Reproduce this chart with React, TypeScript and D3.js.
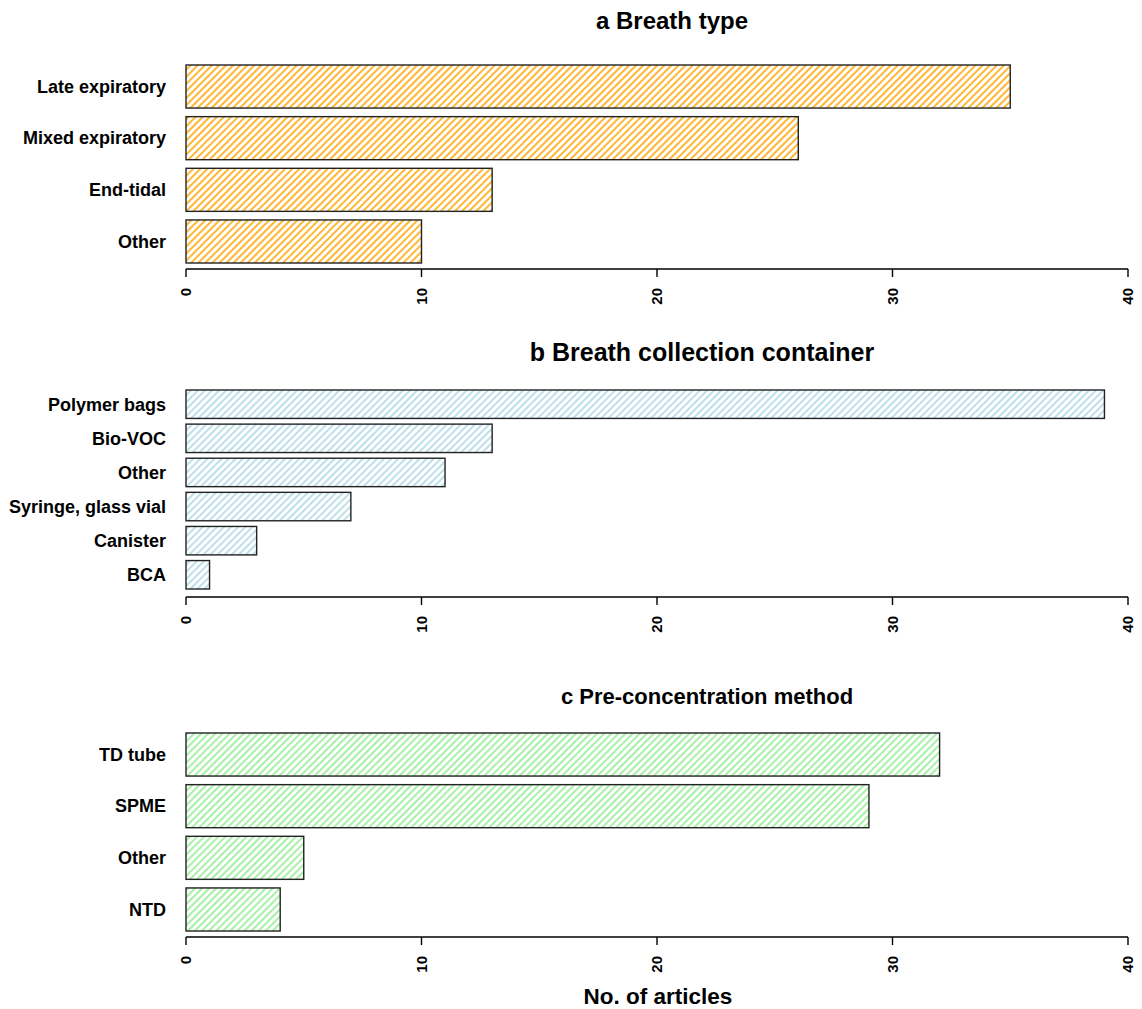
import React from "react";
import * as d3 from "d3";

const breathTypeCats = ["Late expiratory", "Mixed expiratory", "End-tidal", "Other"];
const breathTypeVals = [35, 26, 13, 10];

const containerCats = ["Polymer bags", "Bio-VOC", "Other", "Syringe, glass vial", "Canister", "BCA"];
const containerVals = [39, 13, 11, 7, 3, 1];

const preconCats = ["TD tube", "SPME", "Other", "NTD"];
const preconVals = [32, 29, 5, 4];

const xTicks = [0, 10, 20, 30, 40];
const titles = ["a Breath type", "b Breath collection container", "c Pre-concentration method"];
const xLabel = "No. of articles";

const W = 1142;
const H = 1009;
const X0 = 186;
const X1 = 1128;
const FONT = "'Liberation Sans', Arial, Helvetica, sans-serif";

const panels = [
  { cats: breathTypeCats, vals: breathTypeVals, color: "#FFA500", id: "hatchA", top: 65, bottom: 263, axisY: 269, titleY: 29, titleX: 672, titleSize: 24 },
  { cats: containerCats, vals: containerVals, color: "#ADD8E6", id: "hatchB", top: 390, bottom: 589, axisY: 597, titleY: 361, titleX: 702, titleSize: 25 },
  { cats: preconCats, vals: preconVals, color: "#90EE90", id: "hatchC", top: 733, bottom: 931, axisY: 937, titleY: 704, titleX: 707, titleSize: 22 },
];

export default function App() {
  const x = d3.scaleLinear().domain([0, 40]).range([X0, X1]);
  return (
    <svg width={W} height={H} style={{ position: "absolute", left: 0, top: 0, background: "#fff" }} fontFamily={FONT}>
      <defs>
        {panels.map((p) => (
          <pattern key={p.id} id={p.id} patternUnits="userSpaceOnUse" width={5} height={5} patternTransform="rotate(45)">
            <rect width={5} height={5} fill="#fff" />
            <line x1={1} y1={-1} x2={1} y2={6} stroke={p.color} strokeWidth={1.6} />
          </pattern>
        ))}
      </defs>
      <rect width={W} height={H} fill="#fff" />
      {panels.map((p, pi) => {
        const y = d3.scaleBand<string>().domain(p.cats).range([p.top, p.bottom]).paddingInner(1 / 6).paddingOuter(0);
        return (
          <g key={pi}>
            <text x={p.titleX} y={p.titleY} textAnchor="middle" fontWeight="bold" fontSize={p.titleSize}>
              {titles[pi]}
            </text>
            {p.cats.map((c, i) => (
              <g key={c}>
                <rect
                  x={x(0)}
                  y={y(c)!}
                  width={x(p.vals[i]) - x(0)}
                  height={y.bandwidth()}
                  fill={`url(#${p.id})`}
                  stroke="#222"
                  strokeWidth={1.4}
                />
                <text
                  x={166}
                  y={y(c)! + y.bandwidth() / 2}
                  dy="0.35em"
                  textAnchor="end"
                  fontWeight="bold"
                  fontSize={18}
                >
                  {c}
                </text>
              </g>
            ))}
            <line x1={x(0)} x2={x(40)} y1={p.axisY} y2={p.axisY} stroke="#000" strokeWidth={1.4} />
            {xTicks.map((t) => (
              <g key={t}>
                <line x1={x(t)} x2={x(t)} y1={p.axisY} y2={p.axisY + 8} stroke="#000" strokeWidth={1.4} />
                <text
                  transform={`translate(${x(t)},${p.axisY + 19}) rotate(-90)`}
                  textAnchor="end"
                  dy="0.35em"
                  fontWeight="bold"
                  fontSize={15}
                >
                  {t}
                </text>
              </g>
            ))}
          </g>
        );
      })}
      <text x={658} y={1004} textAnchor="middle" fontWeight="bold" fontSize={22.5}>
        {xLabel}
      </text>
    </svg>
  );
}
